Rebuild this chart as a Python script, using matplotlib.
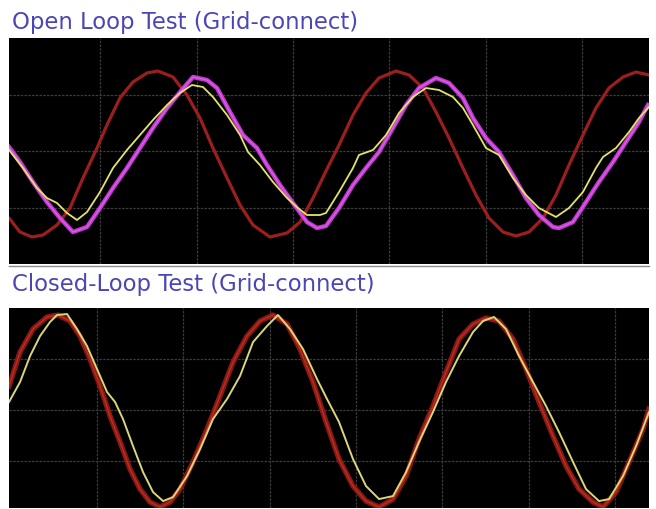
import matplotlib
matplotlib.use("Agg")
import matplotlib.pyplot as plt

# ---------------- Open-loop test (top screen), time in divisions, amplitude in divisions
ol_grid_t = [0.050, 0.164, 0.289, 0.403, 0.548, 0.683, 0.818, 0.964, 1.067, 1.202, 1.337, 1.483,
             1.597, 1.753, 1.898, 2.033, 2.168, 2.314, 2.449, 2.584, 2.760, 2.937, 3.072, 3.207,
             3.342, 3.477, 3.622, 3.757, 3.892, 4.069, 4.204, 4.349, 4.484, 4.619, 4.764, 4.899,
             5.034, 5.180, 5.315, 5.450, 5.595, 5.730, 5.865, 6.010, 6.145, 6.280, 6.426, 6.561, 6.696]
ol_grid_v = [-1.186, -1.434, -1.522, -1.487, -1.310, -1.009, -0.478, 0.053, 0.460, 0.938, 1.221, 1.381,
             1.416, 1.310, 0.991, 0.584, 0.053, -0.478, -0.956, -1.310, -1.522, -1.451, -1.257, -0.832,
             -0.354, 0.106, 0.637, 1.027, 1.292, 1.416, 1.345, 1.115, 0.690, 0.230, -0.301, -0.779,
             -1.186, -1.434, -1.504, -1.434, -1.186, -0.779, -0.248, 0.283, 0.761, 1.115, 1.310, 1.398, 1.345]

ol_ref_t = [0.050, 0.195, 0.341, 0.444, 0.548, 0.652, 0.756, 0.860, 0.995, 1.130, 1.275, 1.410,
            1.545, 1.691, 1.826, 1.950, 2.064, 2.168, 2.314, 2.449, 2.532, 2.656, 2.791, 2.937,
            3.051, 3.144, 3.279, 3.342, 3.477, 3.622, 3.684, 3.830, 3.965, 4.100, 4.245, 4.380,
            4.515, 4.660, 4.764, 4.868, 5.003, 5.138, 5.283, 5.418, 5.553, 5.730, 5.865, 6.010,
            6.145, 6.218, 6.353, 6.488, 6.592, 6.696]
ol_ref_v = [0.018, -0.301, -0.655, -0.832, -0.920, -1.097, -1.221, -1.080, -0.726, -0.301, 0.018, 0.283,
            0.549, 0.814, 1.027, 1.168, 1.133, 0.956, 0.637, 0.283, -0.018, -0.248, -0.549, -0.832,
            -1.009, -1.133, -1.133, -1.097, -0.726, -0.301, -0.071, 0.018, 0.283, 0.673, 0.956, 1.115,
            1.080, 0.956, 0.761, 0.460, 0.053, -0.071, -0.478, -0.779, -1.009, -1.168, -1.009, -0.726,
            -0.301, -0.106, 0.053, 0.336, 0.584, 0.779]

ol_cur_t = [0.050, 0.164, 0.299, 0.444, 0.579, 0.714, 0.860, 0.995, 1.130, 1.275, 1.410, 1.545,
            1.691, 1.826, 1.961, 2.106, 2.210, 2.345, 2.480, 2.625, 2.729, 2.864, 2.999, 3.144,
            3.248, 3.342, 3.477, 3.622, 3.757, 3.892, 4.037, 4.173, 4.307, 4.484, 4.619, 4.764,
            4.868, 5.003, 5.138, 5.283, 5.418, 5.553, 5.699, 5.761, 5.907, 6.042, 6.176, 6.322,
            6.457, 6.592, 6.685]
ol_cur_v = [0.071, -0.195, -0.549, -0.903, -1.186, -1.434, -1.345, -1.009, -0.655, -0.301, 0.053, 0.407,
            0.761, 1.044, 1.310, 1.257, 1.115, 0.690, 0.283, 0.053, -0.248, -0.602, -0.920, -1.257,
            -1.363, -1.327, -1.009, -0.602, -0.301, -0.018, 0.407, 0.814, 1.115, 1.292, 1.204, 0.938,
            0.584, 0.230, -0.018, -0.425, -0.832, -1.133, -1.345, -1.363, -1.257, -0.903, -0.549, -0.195,
            0.159, 0.513, 0.814]

# ---------------- Closed-loop test (bottom screen)
cl_grid_t = [-0.020, 0.108, 0.258, 0.421, 0.548, 0.687, 0.803, 0.919, 1.035, 1.151, 1.267, 1.382,
             1.498, 1.614, 1.730, 1.846, 1.962, 2.112, 2.275, 2.425, 2.576, 2.738, 2.889, 3.039,
             3.202, 3.352, 3.503, 3.654, 3.804, 3.966, 4.117, 4.268, 4.430, 4.581, 4.731, 4.893,
             5.044, 5.195, 5.357, 5.508, 5.658, 5.820, 5.971, 6.122, 6.284, 6.435, 6.585, 6.747,
             6.863, 7.014, 7.165, 7.327, 7.396]
cl_grid_v = [0.471, 1.137, 1.588, 1.824, 1.863, 1.745, 1.451, 1.000, 0.471, -0.118, -0.627, -1.157,
             -1.549, -1.804, -1.902, -1.804, -1.549, -1.020, -0.373, 0.275, 0.941, 1.451, 1.745, 1.863,
             1.686, 1.196, 0.549, -0.235, -0.961, -1.490, -1.784, -1.902, -1.745, -1.294, -0.569, 0.078,
             0.745, 1.392, 1.686, 1.804, 1.745, 1.392, 0.804, 0.157, -0.510, -1.098, -1.549, -1.804,
             -1.902, -1.608, -1.020, -0.373, 0.020]

cl_cur_t = [-0.020, 0.108, 0.224, 0.340, 0.455, 0.537, 0.652, 0.768, 0.884, 1.000, 1.116, 1.209,
            1.301, 1.417, 1.533, 1.649, 1.765, 1.881, 2.043, 2.194, 2.344, 2.506, 2.657, 2.808,
            2.970, 3.097, 3.236, 3.387, 3.549, 3.665, 3.804, 3.966, 4.117, 4.268, 4.430, 4.581,
            4.731, 4.893, 5.044, 5.195, 5.357, 5.473, 5.600, 5.739, 5.890, 6.052, 6.203, 6.353,
            6.516, 6.666, 6.817, 6.933, 7.095, 7.246, 7.396]
cl_cur_v = [0.157, 0.549, 1.059, 1.451, 1.725, 1.863, 1.882, 1.588, 1.255, 0.804, 0.353, 0.157,
            -0.176, -0.706, -1.216, -1.608, -1.784, -1.706, -1.294, -0.765, -0.176, 0.216, 0.667, 1.333,
            1.647, 1.863, 1.588, 1.196, 0.608, 0.216, -0.235, -0.961, -1.490, -1.745, -1.686, -1.216,
            -0.627, -0.039, 0.549, 1.059, 1.529, 1.745, 1.824, 1.588, 1.059, 0.549, 0.078, -0.431,
            -1.020, -1.549, -1.784, -1.745, -1.294, -0.706, -0.039]

titles = ["Open Loop Test (Grid-connect)", "Closed-Loop Test (Grid-connect)"]

W, H = 656, 510
fig = plt.figure(figsize=(W / 100, H / 100), dpi=100, facecolor="white")


def screen(rect, xlim, ylim, xgrid, ygrid):
    ax = fig.add_axes(rect)
    ax.set_facecolor("black")
    ax.set_xlim(*xlim)
    ax.set_ylim(*ylim)
    for g in xgrid:
        ax.axvline(g, color="#3c3c3c", lw=0.9, ls=(0, (2, 1)), zorder=1)
    for g in ygrid:
        ax.axhline(g, color="#3c3c3c", lw=0.9, ls=(0, (2, 1)), zorder=1)
    ax.set_xticks([])
    ax.set_yticks([])
    for s in ax.spines.values():
        s.set_visible(False)
    return ax


# top screen: pixels 9..649 horizontally, 39..265 vertically
ax1 = screen([9 / W, 1 - 265 / H, 640 / W, 226 / H], (0.050, 6.696), (-2.0, 2.0),
             [1, 2, 3, 4, 5, 6], [-1, 0, 1])
ax1.plot(ol_grid_t, ol_grid_v, color="#9c1e1e", lw=2.3, zorder=3, solid_capstyle="round")
ax1.plot(ol_cur_t, ol_cur_v, color="#c236d2", lw=3.2, zorder=4, solid_joinstyle="round")
ax1.plot(ol_cur_t, ol_cur_v, color="#e070e8", lw=1.0, zorder=4, alpha=0.7)
ax1.plot(ol_ref_t, ol_ref_v, color="#e2e466", lw=1.3, zorder=5)

# bottom screen: pixels 9..649 horizontally, 309..509 vertically
ax2 = screen([9 / W, 1 / H, 640 / W, 200 / H], (-0.020, 7.396), (-1.92, 2.0),
             [1, 2, 3, 4, 5, 6, 7], [-1, 0, 1])
ax2.plot(cl_grid_t, cl_grid_v, color="#8e1616", lw=3.8, zorder=3)
ax2.plot(cl_grid_t, cl_grid_v, color="#c0401c", lw=1.0, zorder=3, alpha=0.7)
ax2.plot(cl_cur_t, cl_cur_v, color="#dcd67a", lw=1.4, zorder=5)

# separator line of the white strip
fig.add_artist(plt.Line2D([9 / W, 649 / W], [1 - 266.5 / H, 1 - 266.5 / H],
                          color="#8a8a8a", lw=1.0))

fig.text(12 / W, 1 - 23 / H, titles[0], color="#4a46b8", fontsize=16.4,
         family="DejaVu Sans", va="center", ha="left")
fig.text(12 / W, 1 - 285 / H, titles[1], color="#4a46b8", fontsize=16.4,
         family="DejaVu Sans", va="center", ha="left")

fig.savefig("out.png", dpi=100, facecolor="white")
